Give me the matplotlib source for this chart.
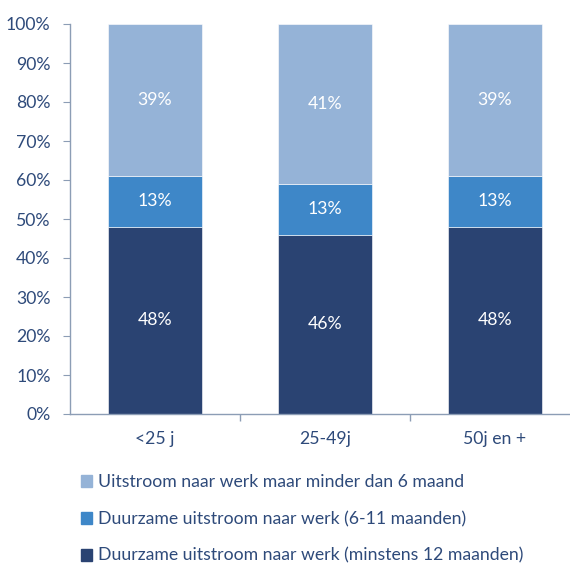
import matplotlib
matplotlib.use("Agg")
import matplotlib.pyplot as plt
from matplotlib.patches import Patch

categories = ["<25 j", "25-49j", "50j en +"]
long_term = [48, 46, 48]
mid_term = [13, 13, 13]
short_term = [39, 41, 39]
series_names = [
    "Uitstroom naar werk maar minder dan 6 maand",
    "Duurzame uitstroom naar werk (6-11 maanden)",
    "Duurzame uitstroom naar werk (minstens 12 maanden)",
]
yticks = [0, 10, 20, 30, 40, 50, 60, 70, 80, 90, 100]

c_dark = "#2A4372"
c_mid = "#3E87C8"
c_light = "#95B3D7"
txt = "#2E4A7A"
spine = "#8C9DB5"

plt.rcParams["font.family"] = ["Lato", "DejaVu Sans"]
FS = 12.7

W, H = 570, 563
fig = plt.figure(figsize=(W / 100, H / 100), dpi=100)
ax = fig.add_axes([70 / W, 1 - 414 / H, 500 / W, 390 / H])

x = list(range(len(categories)))
bw = 0.555
ax.bar(x, long_term, bw, color=c_dark, edgecolor="white", linewidth=0.4)
ax.bar(x, mid_term, bw, bottom=long_term, color=c_mid, edgecolor="white", linewidth=0.4)
bottoms2 = [a + b for a, b in zip(long_term, mid_term)]
ax.bar(x, short_term, bw, bottom=bottoms2, color=c_light, edgecolor="white", linewidth=0.4)

for i in x:
    ax.text(i, long_term[i] / 2, f"{long_term[i]}%", ha="center", va="center", color="white", fontsize=FS)
    ax.text(i, long_term[i] + mid_term[i] / 2, f"{mid_term[i]}%", ha="center", va="center", color="white", fontsize=FS)
    ax.text(i, bottoms2[i] + short_term[i] / 2, f"{short_term[i]}%", ha="center", va="center", color="white", fontsize=FS)

ax.set_xlim(-0.5, 2.5 - 10 / 170)
ax.set_ylim(0, 100)
ax.set_yticks(yticks)
ax.set_yticklabels([f"{t}%" for t in yticks])
ax.set_xticks(x)
ax.set_xticklabels(categories)
ax.set_xticks([0.5, 1.5], minor=True)
ax.tick_params(axis="x", which="major", length=0, pad=12, colors=txt, labelsize=FS)
ax.tick_params(axis="x", which="minor", length=5, color=spine, width=1)
ax.tick_params(axis="y", length=5, color=spine, colors=txt, labelsize=FS, pad=9)
for s in ["top", "right"]:
    ax.spines[s].set_visible(False)
for s in ["left", "bottom"]:
    ax.spines[s].set_color(spine)
    ax.spines[s].set_linewidth(1)

handles = [Patch(color=c_light), Patch(color=c_mid), Patch(color=c_dark)]
leg = fig.legend(handles, series_names, loc="upper left", bbox_to_anchor=(81 / W, 1 - 474 / H),
                 frameon=False, fontsize=FS, labelcolor=txt, handlelength=0.65, handleheight=0.65,
                 handletextpad=0.3, labelspacing=1.18, borderaxespad=0, borderpad=0)

fig.savefig("out.png", dpi=100)
